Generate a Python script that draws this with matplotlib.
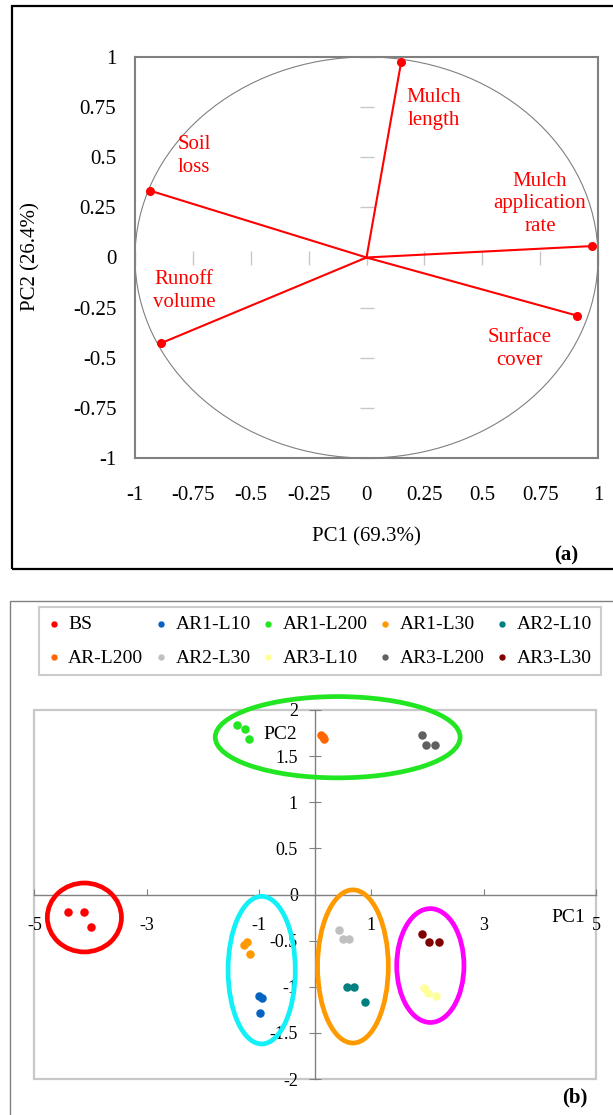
import matplotlib
matplotlib.use("Agg")
import matplotlib.pyplot as plt
from matplotlib.patches import Circle, Ellipse, Rectangle
from matplotlib.ticker import FormatStrFormatter

plt.rcParams['font.family'] = ['Liberation Serif', 'DejaVu Serif']
plt.rcParams['axes.unicode_minus'] = False

# ---- (a) loadings ----
variables = ["Mulch\nlength", "Soil\nloss", "Mulch\napplication\nrate", "Surface\ncover", "Runoff\nvolume"]
pc1_load = [0.150, -0.934, 0.975, 0.910, -0.887]
pc2_load = [0.977, 0.333, 0.057, -0.290, -0.427]
load_ticks = [-1, -0.75, -0.5, -0.25, 0, 0.25, 0.5, 0.75, 1]

# ---- (b) scores ----
groups = ["BS", "AR1-L10", "AR1-L200", "AR1-L30", "AR2-L10",
          "AR-L200", "AR2-L30", "AR3-L10", "AR3-L200", "AR3-L30"]
group_colors = ["#FF0000", "#0563C1", "#22E622", "#FF9900", "#008080",
                "#FF6600", "#C0C0C0", "#FFFF99", "#606060", "#800000"]
pc1_scores = [[-4.40, -4.11, -3.99], [-0.995, -0.953, -0.981], [-1.39, -1.25, -1.18],
              [-1.27, -1.21, -1.16], [0.56, 0.69, 0.89], [0.10, 0.13, 0.16],
              [0.42, 0.50, 0.61], [1.93, 2.00, 2.15], [1.91, 1.98, 2.14],
              [1.91, 2.03, 2.21]]
pc2_scores = [[-0.195, -0.195, -0.356], [-1.10, -1.12, -1.28], [1.835, 1.797, 1.69],
              [-0.544, -0.513, -0.640], [-1.00, -1.00, -1.17], [1.73, 1.71, 1.69],
              [-0.39, -0.48, -0.48], [-1.015, -1.065, -1.10], [1.73, 1.62, 1.62],
              [-0.425, -0.517, -0.517]]
score_xticks = [-5, -3, -1, 1, 3, 5]
score_yticks = [-2, -1.5, -1, -0.5, 0, 0.5, 1, 1.5, 2]

# cluster ellipses: centre x, centre y, width, height, colour
ell_x = [-4.11, -0.953, 0.672, 2.05, 0.40]
ell_y = [-0.249, -0.820, -0.780, -0.77, 1.705]
ell_w = [1.32, 1.197, 1.26, 1.197, 4.36]
ell_h = [0.747, 1.60, 1.66, 1.234, 0.881]
ell_c = ["#FF0000", "#12F0F8", "#FF9900", "#FF00FF", "#22E622"]

W, H = 613, 1115
fig = plt.figure(figsize=(W / 100, H / 100), dpi=100)

def fx(px):
    return px / W

def fy(py):
    return 1 - py / H

# outer frames
fig.patches.append(Rectangle((fx(12), fy(569)), fx(640) - fx(12), fy(6) - fy(569),
                             transform=fig.transFigure, fill=False, ec="black", lw=1.6))
fig.patches.append(Rectangle((fx(10), fy(1130)), fx(640) - fx(10), fy(601) - fy(1130),
                             transform=fig.transFigure, fill=False, ec="#808080", lw=1.0))

# ================= (a) =================
pos_a = [fx(135), fy(458), fx(598) - fx(135), fy(57) - fy(458)]
axc = fig.add_axes(pos_a, frameon=False)
axc.set_xlim(-1, 1)
axc.set_ylim(-1, 1)
for s in ["top", "right"]:
    axc.spines[s].set_visible(False)
for s in ["left", "bottom"]:
    axc.spines[s].set_visible(True)
    axc.spines[s].set_position(("data", 0))
    axc.spines[s].set_color("#C8C8C8")
    axc.spines[s].set_linewidth(1.0)
axc.set_xticks(load_ticks)
axc.set_yticks(load_ticks)
axc.tick_params(direction="inout", length=10.5, width=1, color="#C8C8C8",
                labelbottom=False, labelleft=False)

ax = fig.add_axes(pos_a, facecolor="none")
ax.set_xlim(-1, 1)
ax.set_ylim(-1, 1)
ax.add_patch(Circle((0, 0), 1, fill=False, ec="#808080", lw=0.8))
for x, y in zip(pc1_load, pc2_load):
    ax.plot([0, x], [0, y], color="#FF0000", lw=1.5)
ax.plot(pc1_load, pc2_load, "o", color="#FF0000", markersize=5.5, linestyle="none")
label_pos = [(0.29, 0.74), (-0.745, 0.506), (0.75, 0.267), (0.663, -0.456), (-0.788, -0.167)]
for name, (lx, ly) in zip(variables, label_pos):
    ax.text(lx, ly, name, color="#FF0000", fontsize=15, ha="center", va="center",
            linespacing=1.25)
ax.set_xticks(load_ticks)
ax.set_yticks(load_ticks)
ax.xaxis.set_major_formatter(FormatStrFormatter("%g"))
ax.yaxis.set_major_formatter(FormatStrFormatter("%g"))
ax.tick_params(length=0, labelsize=15)
ax.tick_params(axis="y", pad=13.5)
ax.tick_params(axis="x", pad=20)
for s in ax.spines.values():
    s.set_color("#808080")
    s.set_linewidth(1.5)
fig.text(fx(31), fy(257), "PC2 (26.4%)", rotation=90, ha="center", va="center", fontsize=15)
fig.text(fx(366), fy(537), "PC1 (69.3%)", ha="center", va="center", fontsize=15)
fig.text(fx(566), fy(555), "(a)", ha="center", va="center", fontsize=15, fontweight="bold")

# ================= (b) =================
pos_b = [fx(34.4), fy(1079), fx(596) - fx(34.4), fy(710) - fy(1079)]
bx = fig.add_axes(pos_b)
bx.set_xlim(-5, 5)
bx.set_ylim(-2, 2)
for s in ["top", "right"]:
    bx.spines[s].set_visible(False)
for s in ["left", "bottom"]:
    bx.spines[s].set_position(("data", 0))
    bx.spines[s].set_color("#808080")
    bx.spines[s].set_linewidth(1.0)
bx.add_patch(Rectangle((0, 0), 1, 1, transform=bx.transAxes, fill=False,
                       ec="#C8C8C8", lw=1.6, clip_on=False))
handles = []
for name, c, xs, ys in zip(groups, group_colors, pc1_scores, pc2_scores):
    h = bx.scatter(xs, ys, s=26, color=c, label=name, zorder=3)
    handles.append(h)
for x, y, w, h, c in zip(ell_x, ell_y, ell_w, ell_h, ell_c):
    bx.add_patch(Ellipse((x, y), w, h, fill=False, ec=c, lw=3.4, clip_on=False, zorder=4))
bx.set_xticks(score_xticks)
bx.set_yticks(score_yticks)
bx.xaxis.set_major_formatter(FormatStrFormatter("%g"))
bx.yaxis.set_major_formatter(FormatStrFormatter("%g"))
bx.tick_params(axis="x", direction="in", length=4.5, color="#808080", labelsize=13, pad=16)
bx.tick_params(axis="y", direction="inout", length=9, color="#808080", labelsize=13, pad=8)
bx.text(-0.63, 1.73, "PC2", fontsize=14, ha="center", va="center")
bx.text(4.5, -0.25, "PC1", fontsize=14, ha="center", va="center")

order = [0, 5, 1, 6, 2, 7, 3, 8, 4, 9]
leg = fig.legend([handles[i] for i in order], [groups[i] for i in order],
                 ncol=5, loc="upper left",
                 bbox_to_anchor=(fx(39), fy(677), fx(601) - fx(39), fy(607) - fy(677)),
                 mode="expand", borderaxespad=0, fontsize=14, frameon=True,
                 fancybox=False, edgecolor="#C0C0C0", handlelength=0.6,
                 handletextpad=0.45, columnspacing=0.8, labelspacing=0.8,
                 markerscale=0.7, borderpad=0.45)
leg.get_frame().set_linewidth(1.5)
fig.text(fx(575), fy(1097), "(b)", ha="center", va="center", fontsize=15, fontweight="bold")

fig.savefig("out.png", dpi=100)
